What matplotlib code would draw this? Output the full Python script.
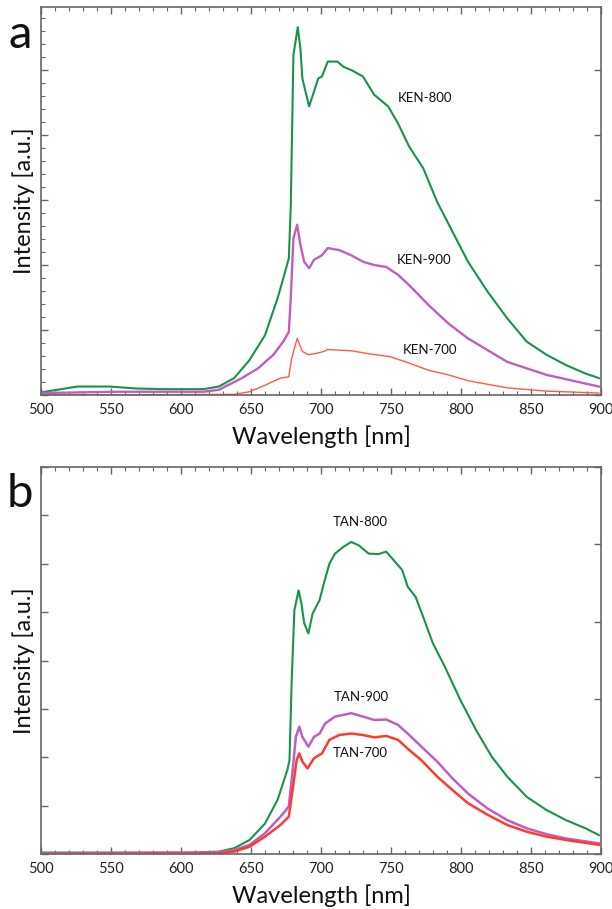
import numpy as np
import matplotlib
matplotlib.use("Agg")
import matplotlib.pyplot as plt
from matplotlib.ticker import MultipleLocator

# ---------------- data ----------------
ken800_x = [500, 526, 549, 568, 588, 616, 627, 638, 649, 660, 669, 673, 677, 678.4, 680.3, 683.4, 685.3, 686.7,
            691.5, 695, 698, 700.7, 704.8, 711.8, 716, 721.6, 730, 738, 748, 755, 763, 773, 783, 794, 805, 819,
            833, 847, 861, 875, 889, 898.5]
ken800_y = [0.04, 0.13, 0.13, 0.10, 0.09, 0.09, 0.13, 0.26, 0.54, 0.92, 1.49, 1.79, 2.10, 2.9, 5.23, 5.66, 5.33, 4.87,
            4.44, 4.67, 4.87, 4.90, 5.13, 5.13, 5.05, 5.00, 4.90, 4.62, 4.44, 4.18, 3.82, 3.49, 2.97, 2.51, 2.05, 1.59,
            1.18, 0.82, 0.62, 0.46, 0.33, 0.26]

ken900_x = [500, 554, 616, 627, 643.5, 655, 666, 673, 677, 678.4, 680.3, 683, 685.3, 688, 691.5, 695, 700.7, 704.8,
            713, 721.6, 730, 738, 746.6, 755, 763, 777, 791, 805, 819, 833, 861, 898.5]
ken900_y = [0.03, 0.05, 0.05, 0.08, 0.26, 0.41, 0.62, 0.82, 0.97, 1.49, 2.41, 2.62, 2.31, 2.05, 1.95, 2.08, 2.15, 2.26,
            2.23, 2.15, 2.05, 2.00, 1.97, 1.85, 1.69, 1.38, 1.10, 0.87, 0.69, 0.51, 0.31, 0.13]

ken700_x = [500, 638, 649, 660, 671, 677, 679, 683, 686.7, 691, 696.5, 702, 704.8, 721.6, 735.5, 749.5, 763, 777,
            791, 805, 833, 861, 898.5]
ken700_y = [0.00, 0.01, 0.05, 0.15, 0.26, 0.28, 0.56, 0.87, 0.67, 0.62, 0.64, 0.67, 0.70, 0.68, 0.63, 0.59, 0.49, 0.38,
            0.31, 0.22, 0.11, 0.06, 0.03]

tan800_x = [500, 610, 627, 638, 649, 660, 669, 676, 677.5, 679, 681, 684, 686, 688, 691, 694, 699, 702, 706, 710, 716,
            721.6, 727, 734, 741, 746.6, 752, 758, 762, 767.5, 773, 780, 788.5, 799.6, 810.8, 822, 833, 847, 861, 875,
            889, 898.5]
tan800_y = [0.03, 0.03, 0.05, 0.12, 0.29, 0.63, 1.12, 1.74, 1.94, 3.53, 5.04, 5.45, 5.18, 4.77, 4.56, 4.97, 5.25, 5.59,
            6.00, 6.21, 6.35, 6.45, 6.38, 6.21, 6.20, 6.25, 6.07, 5.87, 5.52, 5.32, 4.90, 4.35, 3.87, 3.18, 2.56, 2.01,
            1.60, 1.18, 0.91, 0.70, 0.53, 0.39]

tan900_x = [500, 624, 638, 649, 660, 671, 677, 680, 682, 684.5, 686.7, 691, 695, 699, 703, 710, 721.6, 730, 738,
            746.6, 755, 763, 771.7, 783, 794, 805, 819, 833, 847, 861, 875, 898.5]
tan900_y = [0.01, 0.03, 0.08, 0.19, 0.43, 0.77, 0.98, 1.80, 2.42, 2.63, 2.42, 2.22, 2.42, 2.49, 2.70, 2.84, 2.91, 2.84,
            2.77, 2.78, 2.67, 2.46, 2.22, 1.91, 1.56, 1.25, 0.94, 0.70, 0.53, 0.41, 0.32, 0.22]

tan700_x = [500, 624, 638, 649, 660, 671, 677, 680, 682.6, 684.5, 686.7, 690.4, 695, 700.7, 706, 713, 721.6, 730, 738,
            746.6, 755, 763, 771.7, 783, 794, 805, 819, 833, 847, 861, 875, 898.5]
tan700_y = [0.00, 0.01, 0.05, 0.15, 0.36, 0.60, 0.77, 1.39, 1.94, 2.08, 1.91, 1.77, 1.98, 2.08, 2.36, 2.46, 2.49, 2.46,
            2.41, 2.44, 2.36, 2.15, 1.94, 1.60, 1.32, 1.05, 0.81, 0.60, 0.46, 0.36, 0.29, 0.19]

xticks = [500, 550, 600, 650, 700, 750, 800, 850, 900]
labels_a = ["KEN-800", "KEN-900", "KEN-700"]
labels_b = ["TAN-800", "TAN-900", "TAN-700"]

# ---------------- style ----------------
FONT = ["Lato", "DejaVu Sans"]
plt.rcParams['font.family'] = FONT
GREEN = "#17944a"
MAGENTA = "#c05ec0"
RED_A = "#ff5a45"
RED_B = "#ff3b30"
FRAME = "#666666"

fig = plt.figure(figsize=(6.12, 9.09), dpi=100)
left, width = 41 / 612, 560 / 612
ax_a = fig.add_axes([left, 1 - 395 / 909, width, 388 / 909])
ax_b = fig.add_axes([left, 1 - 854 / 909, width, 387 / 909])


def style(ax, ymax, left_major, left_minor, right_major, right_max):
    ax.set_xlim(500, 900)
    ax.set_ylim(0, ymax)
    ax.set_xticks(xticks)
    ax.xaxis.set_minor_locator(MultipleLocator(10))
    ax.yaxis.set_major_locator(MultipleLocator(left_major))
    if left_minor:
        ax.yaxis.set_minor_locator(MultipleLocator(left_minor))
    ax.set_yticklabels([])
    ax.tick_params(axis='both', which='both', direction='in', colors=FRAME, labelcolor='#222222')
    ax.tick_params(axis='x', which='major', length=5, width=1, top=True, labelsize=10.5, pad=6)
    ax.tick_params(axis='x', which='minor', length=3, width=0.8, top=True)
    ax.tick_params(axis='y', which='major', length=5, width=1)
    ax.tick_params(axis='y', which='minor', length=3, width=0.8)
    for s in ax.spines.values():
        s.set_color(FRAME)
        s.set_linewidth(1.2)
    ax.set_xlabel("Wavelength [nm]", fontsize=17, color='#111111', labelpad=6)
    ax.set_ylabel("Intensity [a.u.]", fontsize=17, color='#111111', labelpad=1)
    tw = ax.twinx()
    tw.set_ylim(0, right_max)
    tw.yaxis.set_major_locator(MultipleLocator(right_major))
    tw.set_yticklabels([])
    tw.tick_params(axis='y', which='major', direction='in', length=5, width=1, colors=FRAME)
    for s in tw.spines.values():
        s.set_visible(False)
    return tw


style(ax_a, 5.97, 1, 0.2, 1, 5.97)
style(ax_b, 8.0, 1, None, 1, 5.0)

ax_a.plot(ken800_x, ken800_y, color=GREEN, lw=1.5)
ax_a.plot(ken900_x, ken900_y, color=MAGENTA, lw=1.7)
ax_a.plot(ken700_x, ken700_y, color=RED_A, lw=1.0)

ax_b.plot(tan800_x, tan800_y, color=GREEN, lw=1.5)
ax_b.plot(tan900_x, tan900_y, color=MAGENTA, lw=1.8)
ax_b.plot(tan700_x, tan700_y, color=RED_B, lw=1.8)

lab_kw = dict(fontsize=9.5, ha='center', va='center', color='#111111')
ax_a.text(774, 4.57, labels_a[0], **lab_kw)
ax_a.text(773.5, 2.08, labels_a[1], **lab_kw)
ax_a.text(778, 0.69, labels_a[2], **lab_kw)

ax_b.text(728, 6.86, labels_b[0], **lab_kw)
ax_b.text(728.5, 3.24, labels_b[1], **lab_kw)
ax_b.text(728, 2.09, labels_b[2], **lab_kw)

fig.text(20 / 612, 1 - 35 / 909, "a", fontsize=34, ha='center', va='center', color='#111111')
fig.text(20 / 612, 1 - 494 / 909, "b", fontsize=34, ha='center', va='center', color='#111111')

fig.savefig("out.png", dpi=100)
